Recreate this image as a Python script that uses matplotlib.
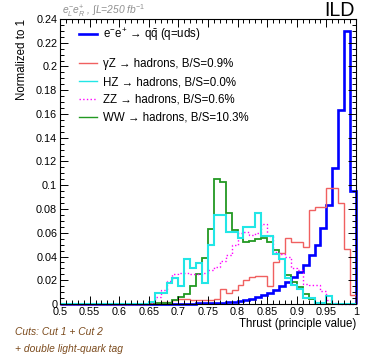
import numpy as np
import matplotlib
matplotlib.use('Agg')
import matplotlib.pyplot as plt
from matplotlib.ticker import MultipleLocator, FuncFormatter
from matplotlib.lines import Line2D

# thrust binning: 50 bins of 0.01 from 0.5 to 1.0
thrust_edges = np.round(np.linspace(0.5, 1.0, 51), 3)

# normalized distributions, 15 empty bins (0.50-0.64) then 0.65 ... 0.99
qq_uds = [0.0] * 15 + [
    0.0002, 0.0002, 0.0002, 0.0002, 0.0003, 0.0003, 0.0004, 0.0004, 0.0005, 0.0005,
    0.0006, 0.0008, 0.001, 0.0013, 0.0017, 0.0023, 0.003, 0.004, 0.0055, 0.0076,
    0.0095, 0.0118, 0.015, 0.0188, 0.023, 0.027, 0.033, 0.041, 0.050, 0.064,
    0.083, 0.1145, 0.163, 0.230, 0.095]
gamma_z = [0.0] * 15 + [
    0.001, 0.001, 0.002, 0.002, 0.003, 0.004, 0.004, 0.003, 0.003, 0.003,
    0.003, 0.004, 0.013, 0.009, 0.012, 0.016, 0.020, 0.023, 0.024, 0.024,
    0.015, 0.035, 0.043, 0.0555, 0.052, 0.052, 0.048, 0.079, 0.082, 0.082,
    0.098, 0.098, 0.085, 0.046, 0.008]
hz = [0.0] * 15 + [
    0.002, 0.0095, 0.0095, 0.0174, 0.022, 0.015, 0.0376, 0.030, 0.0348, 0.0174,
    0.0497, 0.075, 0.075, 0.061, 0.061, 0.0553, 0.065, 0.065, 0.077, 0.0573,
    0.0573, 0.042, 0.038, 0.0216, 0.016, 0.013, 0.0048, 0.0048, 0.001, 0.001,
    0.0067, 0.0, 0.0, 0.0, 0.0]
zz = [0.0] * 15 + [
    0.001, 0.006, 0.012, 0.019, 0.025, 0.026, 0.026, 0.025, 0.025, 0.026,
    0.029, 0.031, 0.036, 0.041, 0.050, 0.060, 0.061, 0.058, 0.060, 0.067,
    0.057, 0.044, 0.042, 0.040, 0.030, 0.0286, 0.017, 0.016, 0.016, 0.011,
    0.0034, 0.001, 0.0, 0.0, 0.0]
ww = [0.0] * 15 + [
    0.001, 0.001, 0.001, 0.001, 0.003, 0.006, 0.0085, 0.015, 0.025, 0.0385,
    0.063, 0.105, 0.103, 0.0764, 0.062, 0.056, 0.0525, 0.053, 0.0545, 0.0553,
    0.052, 0.0455, 0.0376, 0.0244, 0.0188, 0.0146, 0.0084, 0.004, 0.001, 0.001,
    0.0, 0.0, 0.0, 0.0, 0.0]

signal_label = r'e$^{-}$e$^{+}$ → q$\bar{\mathrm{q}}$ (q=uds)'
bkg_labels = ['γZ → hadrons, B/S=0.9%', 'HZ → hadrons, B/S=0.0%',
              'ZZ → hadrons, B/S=0.6%', 'WW → hadrons, B/S=10.3%']

#ROOT-like font setup
def set_style(plt):
    plt.rcParams['font.family'] = ['Liberation Sans', 'DejaVu Sans']
    plt.rcParams['mathtext.fontset'] = 'custom'
    plt.rcParams['mathtext.rm'] = 'Liberation Sans'
    plt.rcParams['mathtext.it'] = 'Liberation Sans:italic'
    plt.rcParams['mathtext.sf'] = 'Liberation Sans'
    return

def draw_thrust():
    set_style(plt)
    fig = plt.figure(figsize=(3.74, 3.63), dpi=100)
    ax = fig.add_axes([0.1604, 0.1625, 0.7914, 0.7852])

    # histograms as step outlines
    ax.stairs(qq_uds, thrust_edges, color='#0000ff', lw=1.9, baseline=0, clip_on=False)
    ax.stairs(gamma_z, thrust_edges, color='#f06060', lw=1.0, baseline=0, clip_on=False)
    ax.stairs(ww, thrust_edges, color='#229922', lw=1.3, baseline=0, clip_on=False)
    ax.stairs(zz, thrust_edges, color='#ff00ff', lw=1.0, ls=':', baseline=0, clip_on=False)
    ax.stairs(hz, thrust_edges, color='#22e6e6', lw=1.5, baseline=0, clip_on=False)

    ax.set_xlim(0.5, 1.0)
    ax.set_ylim(0, 0.24)

    ax.xaxis.set_major_locator(MultipleLocator(0.05))
    ax.xaxis.set_minor_locator(MultipleLocator(0.01))
    ax.yaxis.set_major_locator(MultipleLocator(0.02))
    ax.yaxis.set_minor_locator(MultipleLocator(0.005))
    fmt = FuncFormatter(lambda v, p: '%g' % round(v, 3))
    ax.xaxis.set_major_formatter(fmt)
    ax.yaxis.set_major_formatter(fmt)
    ax.tick_params(which='both', direction='in', top=True, right=True, width=0.7,
                   labelsize=7.8, pad=2)
    ax.tick_params(which='major', length=5.5)
    ax.tick_params(which='minor', length=2.8)
    for s in ax.spines.values():
        s.set_linewidth(0.8)

    ax.set_xlabel('Thrust (principle value)', fontsize=8.3, loc='right', labelpad=1)
    ax.set_ylabel('Normalized to 1', fontsize=8.3, loc='top', labelpad=6)

    # legends (no frame)
    h1 = [Line2D([], [], color='#0000ff', lw=1.9)]
    leg1 = ax.legend(h1, [signal_label], loc='upper left', bbox_to_anchor=(0.064, 0.975),
                     frameon=False, fontsize=8.3, handlelength=1.55, handletextpad=0.5,
                     borderpad=0, borderaxespad=0)
    ax.add_artist(leg1)
    h2 = [Line2D([], [], color='#f06060', lw=1.0),
          Line2D([], [], color='#22e6e6', lw=1.0),
          Line2D([], [], color='#ff00ff', lw=1.0, ls=':'),
          Line2D([], [], color='#229922', lw=1.0)]
    ax.legend(h2, bkg_labels, loc='upper left', bbox_to_anchor=(0.064, 0.862),
              frameon=False, fontsize=8.3, handlelength=1.55, handletextpad=0.5,
              borderpad=0, borderaxespad=0, labelspacing=0.5)

    # labels around the frame
    fig.text(0.166, 0.972, r'$e^{-}_{L}e^{+}_{R}$ , $\int$L=250 fb$^{-1}$', fontsize=7.4,
             color='#909090', style='italic', va='center', ha='left')
    fig.text(0.949, 0.956, 'ILD', fontsize=14.1, ha='right', va='baseline')
    fig.text(0.04, 0.085, 'Cuts: Cut 1 + Cut 2', fontsize=7.4, style='italic',
             color='#7b4a1c', va='center')
    fig.text(0.04, 0.038, '+ double light-quark tag', fontsize=7.4, style='italic',
             color='#7b4a1c', va='center')

    fig.savefig('out.png', dpi=100)
    return

def main():
    draw_thrust()
    return

if __name__ == '__main__':
    main()
